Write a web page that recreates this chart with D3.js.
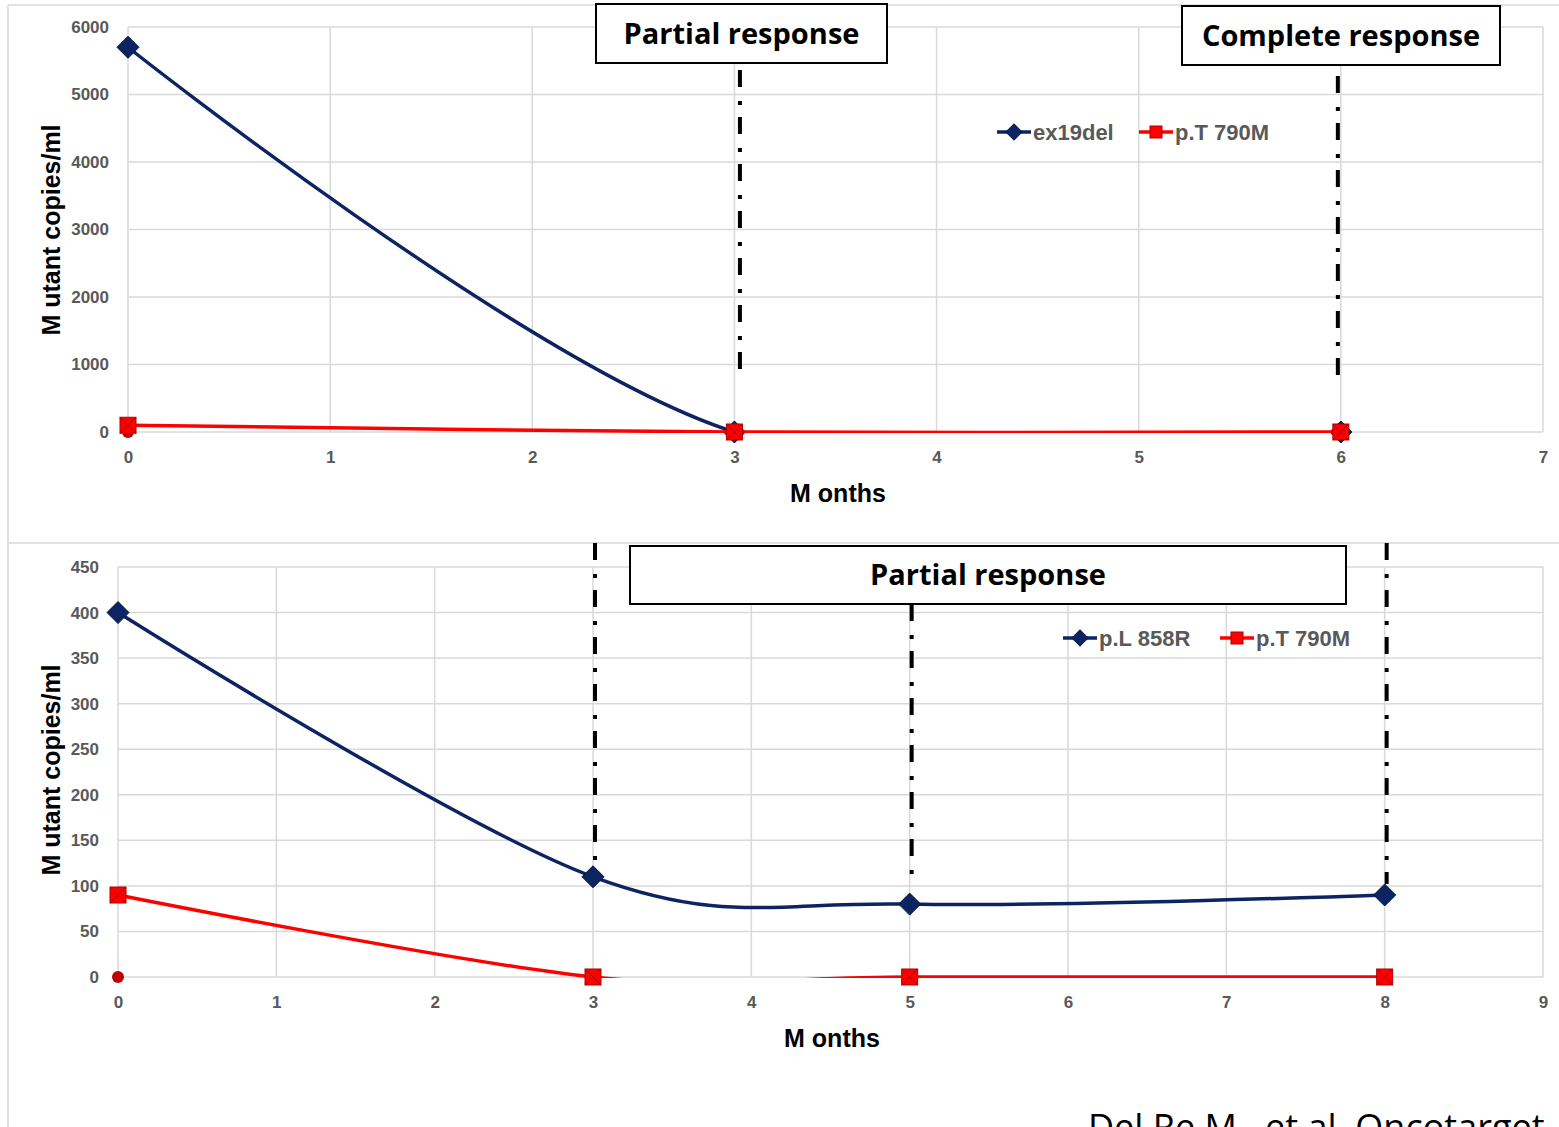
<!DOCTYPE html>
<meta charset="utf-8">
<style>
  body { margin: 0; background: #fff; }
  .tick text { font-family: Arial, "Liberation Sans", sans-serif; font-weight: bold; fill: #595959; font-size: 17px; }
  .title { font-family: Arial, "Liberation Sans", sans-serif; font-weight: bold; fill: #000; font-size: 25px; }
  .legend text { font-family: Arial, "Liberation Sans", sans-serif; font-weight: bold; fill: #595959; font-size: 22px; }
  .note { font-family: "Open Sans", sans-serif; font-weight: bold; fill: #000; font-size: 29px; }
</style>
<body>
<svg width="1559" height="1127"></svg>
<script src="https://cdn.jsdelivr.net/npm/d3@7"></script>
<script>
// ---- data ----
var topMonths = [0, 3, 6];
var topEx19del = [5700, 0, 0];
var topT790M = [100, 0, 0];
var topXTicks = [0, 1, 2, 3, 4, 5, 6, 7];
var topYTicks = [0, 1000, 2000, 3000, 4000, 5000, 6000];
var topResponses = [3, 6];

var botMonths = [0, 3, 5, 8];
var botL858R = [400, 110, 80, 90];
var botT790M = [90, 0, 0, 0];
var botXTicks = [0, 1, 2, 3, 4, 5, 6, 7, 8, 9];
var botYTicks = [0, 50, 100, 150, 200, 250, 300, 350, 400, 450];
var botResponses = [3, 5, 8];

var navy = "#0c2461", red = "#ff0000", grid = "#d9d9d9";

var svg = d3.select("svg");
svg.append("rect").attr("width", 1559).attr("height", 1127).attr("fill", "#fff");

// outer frame lines
svg.append("line").attr("x1", 8).attr("x2", 1559).attr("y1", 5).attr("y2", 5).attr("stroke", grid).attr("stroke-width", 1.5);
svg.append("line").attr("x1", 8).attr("x2", 8).attr("y1", 5).attr("y2", 1127).attr("stroke", grid).attr("stroke-width", 1.5);
svg.append("line").attr("x1", 8).attr("x2", 1559).attr("y1", 543).attr("y2", 543).attr("stroke", grid).attr("stroke-width", 1.5);

function panel(cfg) {
  var x = d3.scaleLinear().domain(cfg.xDomain).range(cfg.xRange);
  var y = d3.scaleLinear().domain(cfg.yDomain).range(cfg.yRange);
  var g = svg.append("g");

  // gridlines
  g.append("g").selectAll("line").data(cfg.yTicks).join("line")
    .attr("x1", x.range()[0]).attr("x2", x.range()[1])
    .attr("y1", d => y(d)).attr("y2", d => y(d))
    .attr("stroke", grid).attr("stroke-width", 1.5);
  g.append("g").selectAll("line").data(cfg.xTicks).join("line")
    .attr("x1", d => x(d)).attr("x2", d => x(d))
    .attr("y1", y.range()[0]).attr("y2", y.range()[1])
    .attr("stroke", grid).attr("stroke-width", 1.5);

  // axes (labels only)
  var ya = g.append("g").attr("transform", "translate(" + (x.range()[0] - 16) + ",0)")
    .call(d3.axisLeft(y).tickValues(cfg.yTicks).tickSize(0).tickFormat(d3.format("d")));
  ya.select(".domain").remove();
  var xa = g.append("g").attr("transform", "translate(0," + (y.range()[0] + 16) + ")")
    .call(d3.axisBottom(x).tickValues(cfg.xTicks).tickSize(0).tickFormat(d3.format("d")));
  xa.select(".domain").remove();

  g.append("text").attr("class", "title").attr("text-anchor", "middle")
    .attr("x", cfg.xTitle[0]).attr("y", cfg.xTitle[1]).text("M onths");
  g.append("text").attr("class", "title").attr("text-anchor", "middle")
    .attr("transform", "translate(" + cfg.yTitle[0] + "," + cfg.yTitle[1] + ") rotate(-90)")
    .text("M utant copies/ml");

  // response lines (dash-dot)
  g.append("g").selectAll("line").data(cfg.responses).join("line")
    .attr("x1", (d, i) => x(d) + cfg.resOffset[i]).attr("x2", (d, i) => x(d) + cfg.resOffset[i])
    .attr("y1", (d, i) => cfg.resY[i][0]).attr("y2", (d, i) => cfg.resY[i][1])
    .attr("stroke", "#000").attr("stroke-width", 4)
    .attr("stroke-dasharray", "17,14,4,12");

  // clip for smoothed lines
  var clipId = "clip" + cfg.id;
  svg.append("clipPath").attr("id", clipId).append("rect")
    .attr("x", x.range()[0] - 5).attr("y", y.range()[1] - 5)
    .attr("width", x.range()[1] - x.range()[0] + 10)
    .attr("height", y.range()[0] - y.range()[1] + 6);

  var line = d3.line().x(d => x(d[0])).y(d => y(d[1])).curve(d3.curveCardinal.tension(0));

  // dark red dot at origin
  g.append("circle").attr("cx", x(0)).attr("cy", y(0)).attr("r", 6).attr("fill", "#c00000");

  cfg.series.forEach(function (s) {
    var pts = cfg.months.map((m, i) => [m, s.values[i]]);
    g.append("path").datum(pts).attr("d", line)
      .attr("clip-path", "url(#" + clipId + ")")
      .attr("fill", "none").attr("stroke", s.color).attr("stroke-width", 3.5);
    var mk = g.append("g").selectAll("g").data(pts).join("g")
      .attr("transform", d => "translate(" + x(d[0]) + "," + y(d[1]) + ")");
    drawMarker(mk, s.marker);
  });

  // legend
  var lg = g.append("g").attr("class", "legend");
  cfg.series.forEach(function (s, i) {
    var lx = cfg.legendX[i], ly = cfg.legendY;
    lg.append("line").attr("x1", lx).attr("x2", lx + 34).attr("y1", ly).attr("y2", ly)
      .attr("stroke", s.color).attr("stroke-width", 3.5);
    var m = lg.append("g").attr("transform", "translate(" + (lx + 17) + "," + ly + ")");
    drawMarker(m, s.marker, 0.75);
    lg.append("text").attr("x", lx + 36).attr("y", ly + 8).text(s.name);
  });

  // annotation boxes
  cfg.boxes.forEach(function (b) {
    g.append("rect").attr("x", b.x).attr("y", b.y).attr("width", b.w).attr("height", b.h)
      .attr("fill", "#fff").attr("stroke", "#000").attr("stroke-width", 2);
    g.append("text").attr("class", "note").attr("text-anchor", "middle")
      .attr("x", b.x + b.w / 2).attr("y", b.y + b.h / 2 + 10).text(b.text);
  });
}

function drawMarker(sel, type, k) {
  k = k || 1;
  if (type === "diamond") {
    var r = 11 * k;
    sel.append("path").attr("d", "M0," + (-r) + "L" + r + ",0L0," + r + "L" + (-r) + ",0Z")
      .attr("fill", navy).attr("stroke", "#061640").attr("stroke-width", 1);
  } else {
    var h = 8 * k;
    sel.append("rect").attr("x", -h).attr("y", -h).attr("width", 2 * h).attr("height", 2 * h)
      .attr("fill", red).attr("stroke", "#b00000").attr("stroke-width", 1);
    if (k === 1) {
      sel.append("path").attr("d", "M" + (-h) + "," + (-h) + "L" + h + "," + h + "M" + h + "," + (-h) + "L" + (-h) + "," + h)
        .attr("stroke", "#b00000").attr("stroke-width", 1);
    }
  }
}

panel({
  id: "top",
  xDomain: [0, 7], xRange: [128, 1543],
  yDomain: [0, 6000], yRange: [432, 27],
  xTicks: topXTicks, yTicks: topYTicks,
  months: topMonths,
  series: [
    { name: "ex19del", values: topEx19del, color: navy, marker: "diamond" },
    { name: "p.T 790M", values: topT790M, color: red, marker: "square" }
  ],
  responses: topResponses, resOffset: [5.5, -3], resY: [[70, 376], [76, 376]],
  legendX: [997, 1139], legendY: 132,
  xTitle: [838, 502], yTitle: [60, 230],
  boxes: [
    { x: 596, y: 4, w: 291, h: 59, text: "Partial response" },
    { x: 1182, y: 6, w: 318, h: 59, text: "Complete response" }
  ]
});

panel({
  id: "bot",
  xDomain: [0, 9], xRange: [118, 1543],
  yDomain: [0, 450], yRange: [977, 567],
  xTicks: botXTicks, yTicks: botYTicks,
  months: botMonths,
  series: [
    { name: "p.L 858R", values: botL858R, color: navy, marker: "diamond" },
    { name: "p.T 790M", values: botT790M, color: red, marker: "square" }
  ],
  responses: botResponses, resOffset: [2, 2, 2], resY: [[543, 868], [604, 880], [543, 884]],
  legendX: [1063, 1220], legendY: 638,
  xTitle: [832, 1047], yTitle: [60, 770],
  boxes: [
    { x: 630, y: 546, w: 716, h: 58, text: "Partial response" }
  ]
});

svg.append("text").attr("x", 1088).attr("y", 1140)
  .attr("font-family", "'Open Sans', sans-serif").attr("font-size", 36).attr("fill", "#000")
  .text("Del Re M., et al. Oncotarget");
</script>
</body>
